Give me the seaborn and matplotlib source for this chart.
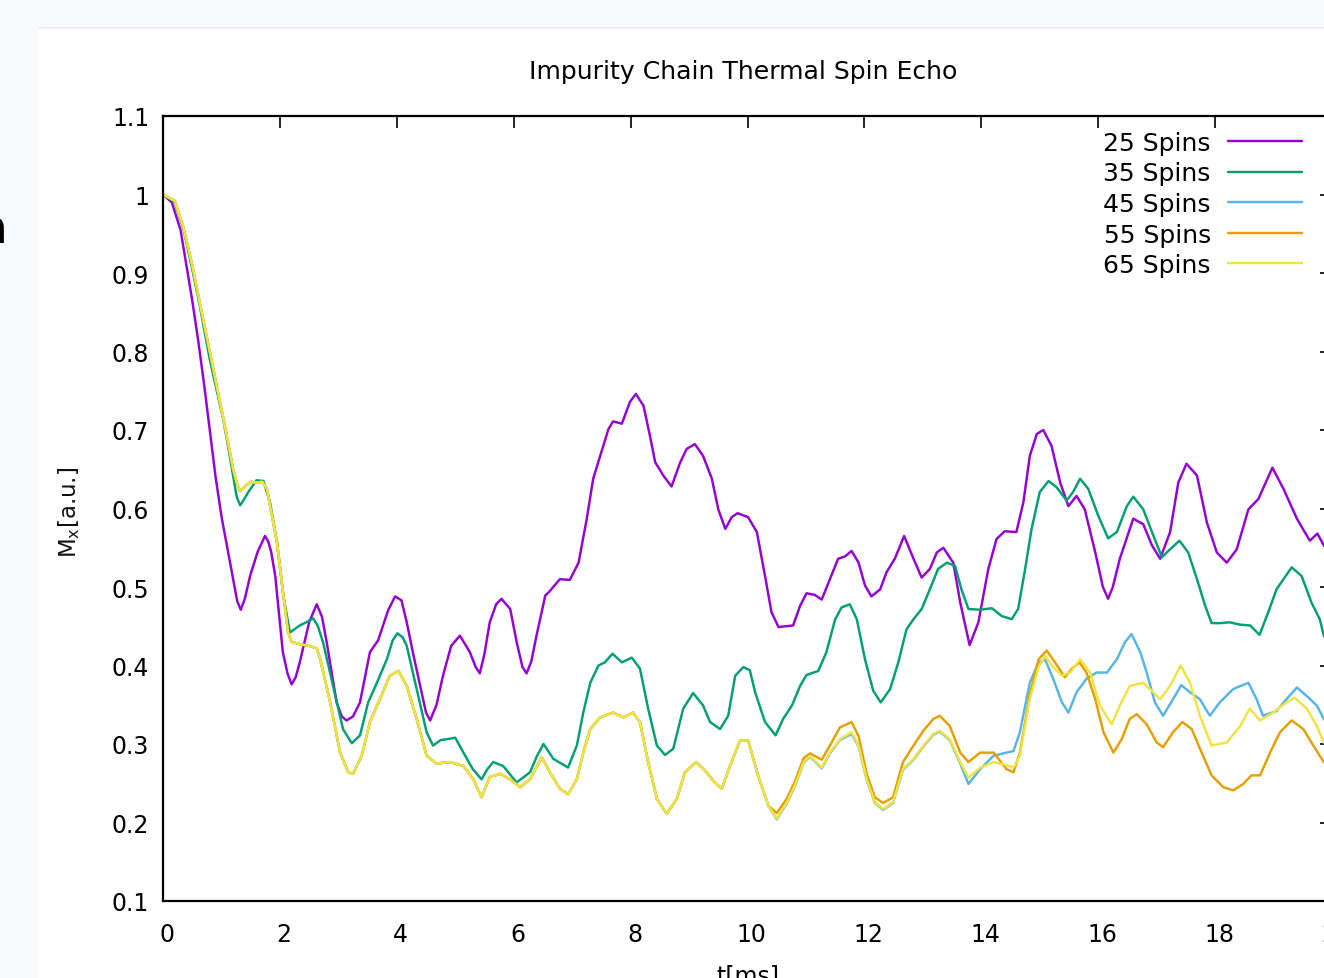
import matplotlib
matplotlib.use("Agg")
import matplotlib.pyplot as plt
import matplotlib.transforms as mtrans
from matplotlib.patches import Rectangle
from matplotlib.lines import Line2D
import pandas as pd
import seaborn as sns

# ---------------- data ----------------
title = "Impurity Chain Thermal Spin Echo"
labels = ["25 Spins", "35 Spins", "45 Spins", "55 Spins", "65 Spins"]
colors = ["#9400d3", "#009e73", "#56b4e9", "#e69f00", "#f0e442"]
xticks = [0, 2, 4, 6, 8, 10, 12, 14, 16, 18, 20]
yticks = [0.1, 0.2, 0.3, 0.4, 0.5, 0.6, 0.7, 0.8, 0.9, 1.0, 1.1]
ytick_labels = ["0.1", "0.2", "0.3", "0.4", "0.5", "0.6", "0.7", "0.8", "0.9", "1", "1.1"]

spins25 = [(0, 1.0), (0.15, 0.99), (0.3, 0.955), (0.4, 0.91), (0.5, 0.865), (0.6, 0.815),
           (0.7, 0.76), (0.8, 0.70), (0.9, 0.64), (1.0, 0.59), (1.1, 0.55), (1.2, 0.51),
           (1.27, 0.482), (1.33, 0.471), (1.4, 0.485), (1.49, 0.514), (1.62, 0.545),
           (1.745, 0.565), (1.8, 0.558), (1.85, 0.545), (1.92, 0.514), (2.05, 0.417),
           (2.13, 0.39), (2.2, 0.376), (2.27, 0.385), (2.34, 0.404), (2.5, 0.455),
           (2.63, 0.478), (2.72, 0.462), (2.8, 0.43), (2.97, 0.353), (3.06, 0.335),
           (3.14, 0.33), (3.25, 0.335), (3.37, 0.353), (3.54, 0.417), (3.68, 0.432),
           (3.85, 0.47), (3.97, 0.488), (4.08, 0.483), (4.17, 0.455), (4.28, 0.415),
           (4.4, 0.374), (4.5, 0.34), (4.57, 0.33), (4.68, 0.35), (4.79, 0.387),
           (4.93, 0.425), (5.08, 0.438), (5.25, 0.417), (5.35, 0.398), (5.42, 0.39),
           (5.5, 0.415), (5.59, 0.455), (5.7, 0.478), (5.79, 0.485), (5.94, 0.472),
           (6.05, 0.43), (6.15, 0.398), (6.22, 0.39), (6.3, 0.405), (6.39, 0.438),
           (6.54, 0.489), (6.62, 0.495), (6.79, 0.51), (6.96, 0.509), (7.11, 0.531),
           (7.25, 0.587), (7.36, 0.638), (7.48, 0.667), (7.62, 0.701), (7.7, 0.711),
           (7.85, 0.708), (7.99, 0.736), (8.09, 0.746), (8.22, 0.731), (8.33, 0.693),
           (8.42, 0.659), (8.56, 0.642), (8.7, 0.628), (8.85, 0.659), (8.96, 0.676),
           (9.1, 0.682), (9.24, 0.667), (9.39, 0.638), (9.5, 0.599), (9.62, 0.574),
           (9.73, 0.589), (9.83, 0.594), (10.01, 0.589), (10.16, 0.57), (10.3, 0.514),
           (10.41, 0.468), (10.53, 0.449), (10.78, 0.451), (10.9, 0.476), (11.01, 0.492),
           (11.15, 0.49), (11.27, 0.484), (11.41, 0.51), (11.55, 0.536), (11.67, 0.539),
           (11.78, 0.546), (11.9, 0.531), (12.01, 0.502), (12.12, 0.488), (12.27, 0.497),
           (12.38, 0.519), (12.52, 0.536), (12.68, 0.565), (12.84, 0.536), (12.98, 0.512),
           (13.12, 0.523), (13.24, 0.544), (13.35, 0.55), (13.52, 0.531), (13.64, 0.48),
           (13.8, 0.426), (13.95, 0.455), (14.12, 0.523), (14.26, 0.561), (14.4, 0.571),
           (14.6, 0.57), (14.72, 0.608), (14.83, 0.667), (14.95, 0.695), (15.06, 0.7),
           (15.2, 0.68), (15.35, 0.633), (15.49, 0.603), (15.63, 0.616), (15.77, 0.599),
           (15.95, 0.544), (16.08, 0.5), (16.17, 0.485), (16.25, 0.5), (16.37, 0.536),
           (16.6, 0.587), (16.77, 0.58), (16.92, 0.553), (17.06, 0.536), (17.23, 0.57),
           (17.37, 0.633), (17.51, 0.657), (17.69, 0.642), (17.86, 0.582), (18.03, 0.544),
           (18.2, 0.531), (18.37, 0.548), (18.57, 0.599), (18.74, 0.612), (18.98, 0.652),
           (19.17, 0.625), (19.4, 0.587), (19.62, 0.559), (19.75, 0.568), (19.86, 0.553),
           (20.0, 0.54)]

spins35 = [(0, 1.0), (0.2, 0.99), (0.35, 0.956), (0.5, 0.905), (0.63, 0.858), (0.8, 0.79),
           (0.92, 0.75), (1.03, 0.714), (1.17, 0.655), (1.26, 0.615), (1.32, 0.604),
           (1.39, 0.612), (1.46, 0.621), (1.6, 0.636), (1.72, 0.635), (1.83, 0.608),
           (1.95, 0.557), (2.06, 0.489), (2.17, 0.442), (2.34, 0.451), (2.45, 0.455),
           (2.57, 0.46), (2.65, 0.45), (2.74, 0.429), (2.91, 0.374), (3.08, 0.319),
           (3.23, 0.301), (3.37, 0.311), (3.51, 0.353), (3.66, 0.378), (3.83, 0.408),
           (3.93, 0.432), (4.01, 0.441), (4.1, 0.436), (4.17, 0.425), (4.34, 0.37),
           (4.51, 0.315), (4.62, 0.298), (4.75, 0.305), (4.85, 0.306), (5.0, 0.308),
           (5.14, 0.289), (5.3, 0.268), (5.45, 0.255), (5.55, 0.268), (5.65, 0.277),
           (5.82, 0.272), (6.05, 0.251), (6.28, 0.264), (6.4, 0.285), (6.51, 0.3),
           (6.68, 0.281), (6.93, 0.27), (7.08, 0.298), (7.19, 0.34), (7.31, 0.378),
           (7.45, 0.4), (7.56, 0.404), (7.69, 0.415), (7.85, 0.404), (8.02, 0.41),
           (8.16, 0.396), (8.3, 0.345), (8.45, 0.298), (8.59, 0.286), (8.73, 0.294),
           (8.9, 0.345), (9.07, 0.365), (9.24, 0.349), (9.36, 0.328), (9.53, 0.319),
           (9.67, 0.336), (9.79, 0.387), (9.93, 0.398), (10.04, 0.394), (10.13, 0.366),
           (10.3, 0.328), (10.48, 0.311), (10.61, 0.332), (10.76, 0.349), (10.9, 0.374),
           (11.01, 0.388), (11.21, 0.393), (11.35, 0.417), (11.5, 0.459), (11.61, 0.474),
           (11.75, 0.478), (11.87, 0.459), (12.01, 0.408), (12.15, 0.368), (12.28, 0.353),
           (12.44, 0.37), (12.58, 0.404), (12.72, 0.446), (12.84, 0.459), (12.98, 0.472),
           (13.12, 0.497), (13.26, 0.523), (13.41, 0.531), (13.55, 0.527), (13.66, 0.497),
           (13.78, 0.472), (13.98, 0.471), (14.18, 0.473), (14.35, 0.463), (14.52, 0.459),
           (14.63, 0.472), (14.75, 0.523), (14.86, 0.574), (15.0, 0.621), (15.15, 0.635),
           (15.29, 0.627), (15.46, 0.61), (15.57, 0.621), (15.69, 0.638), (15.83, 0.625),
           (16.0, 0.591), (16.17, 0.562), (16.32, 0.57), (16.49, 0.603), (16.6, 0.615),
           (16.77, 0.599), (16.92, 0.57), (17.09, 0.538), (17.23, 0.548), (17.39, 0.559),
           (17.54, 0.544), (17.69, 0.51), (17.83, 0.476), (17.94, 0.454), (18.08, 0.454),
           (18.25, 0.455), (18.43, 0.452), (18.6, 0.451), (18.76, 0.439), (18.91, 0.468),
           (19.05, 0.497), (19.31, 0.525), (19.48, 0.514), (19.65, 0.48), (19.79, 0.459),
           (19.86, 0.438), (20.0, 0.42)]

# 45/55/65 spins coincide up to ~10.4 ms
group_early = [(0, 1.0), (0.2, 0.992), (0.35, 0.958), (0.5, 0.91), (0.63, 0.862), (0.86, 0.778),
               (1.09, 0.693), (1.2, 0.65), (1.26, 0.633), (1.32, 0.622), (1.4, 0.628),
               (1.5, 0.634), (1.6, 0.633), (1.7, 0.634), (1.78, 0.625), (1.83, 0.604),
               (1.95, 0.557), (2.06, 0.489), (2.14, 0.442), (2.2, 0.43), (2.35, 0.427),
               (2.5, 0.425), (2.63, 0.422), (2.69, 0.408), (2.86, 0.353), (3.03, 0.289),
               (3.17, 0.264), (3.25, 0.262), (3.4, 0.285), (3.54, 0.328), (3.71, 0.357),
               (3.88, 0.387), (4.03, 0.393), (4.17, 0.374), (4.34, 0.332), (4.51, 0.285),
               (4.68, 0.275), (4.91, 0.277), (5.14, 0.272), (5.31, 0.255), (5.45, 0.232),
               (5.59, 0.258), (5.77, 0.262), (5.94, 0.255), (6.11, 0.245), (6.28, 0.255),
               (6.48, 0.283), (6.62, 0.264), (6.79, 0.243), (6.93, 0.236), (7.08, 0.255),
               (7.19, 0.289), (7.31, 0.319), (7.48, 0.334), (7.7, 0.34), (7.88, 0.334),
               (8.04, 0.34), (8.16, 0.328), (8.3, 0.277), (8.45, 0.23), (8.62, 0.211),
               (8.79, 0.23), (8.93, 0.264), (9.12, 0.277), (9.3, 0.264), (9.44, 0.251),
               (9.56, 0.243), (9.7, 0.272), (9.87, 0.304), (10.01, 0.305), (10.18, 0.26),
               (10.36, 0.221)]

spins45_late = [(10.5, 0.204), (10.67, 0.224), (10.81, 0.246), (10.96, 0.276), (11.07, 0.284),
                (11.27, 0.269), (11.41, 0.288), (11.58, 0.305), (11.78, 0.313), (11.9, 0.297),
                (12.04, 0.254), (12.18, 0.225), (12.32, 0.216), (12.49, 0.225), (12.66, 0.267),
                (12.84, 0.28), (13.01, 0.297), (13.18, 0.312), (13.29, 0.316), (13.46, 0.305),
                (13.64, 0.275), (13.78, 0.249), (13.98, 0.268), (14.21, 0.285), (14.43, 0.289),
                (14.55, 0.291), (14.66, 0.315), (14.83, 0.378), (14.98, 0.404), (15.09, 0.408),
                (15.23, 0.383), (15.38, 0.353), (15.49, 0.34), (15.63, 0.366), (15.8, 0.383),
                (15.97, 0.391), (16.15, 0.391), (16.32, 0.408), (16.46, 0.43), (16.57, 0.44),
                (16.72, 0.417), (16.83, 0.391), (16.97, 0.353), (17.11, 0.336), (17.28, 0.357),
                (17.42, 0.375), (17.57, 0.366), (17.74, 0.357), (17.91, 0.336), (18.08, 0.353),
                (18.31, 0.37), (18.57, 0.378), (18.71, 0.357), (18.82, 0.336), (19.05, 0.342),
                (19.22, 0.357), (19.4, 0.372), (19.57, 0.361), (19.74, 0.349), (19.86, 0.332),
                (20.0, 0.32)]

spins55_late = [(10.5, 0.212), (10.67, 0.23), (10.81, 0.252), (10.96, 0.282), (11.07, 0.288),
                (11.27, 0.28), (11.41, 0.298), (11.58, 0.321), (11.78, 0.328), (11.9, 0.31),
                (12.04, 0.262), (12.18, 0.232), (12.32, 0.225), (12.49, 0.232), (12.66, 0.277),
                (12.84, 0.298), (13.01, 0.317), (13.18, 0.332), (13.29, 0.336), (13.46, 0.323),
                (13.64, 0.289), (13.78, 0.277), (13.98, 0.289), (14.21, 0.289), (14.43, 0.268),
                (14.55, 0.264), (14.66, 0.289), (14.83, 0.363), (14.98, 0.408), (15.12, 0.419),
                (15.26, 0.404), (15.43, 0.385), (15.55, 0.396), (15.68, 0.404), (15.8, 0.391),
                (15.95, 0.357), (16.09, 0.315), (16.26, 0.289), (16.4, 0.306), (16.54, 0.332),
                (16.66, 0.338), (16.83, 0.325), (17.0, 0.302), (17.11, 0.296), (17.28, 0.315),
                (17.44, 0.328), (17.6, 0.319), (17.77, 0.289), (17.94, 0.26), (18.14, 0.245),
                (18.31, 0.241), (18.48, 0.249), (18.62, 0.26), (18.77, 0.26), (18.94, 0.289),
                (19.11, 0.315), (19.31, 0.33), (19.51, 0.319), (19.68, 0.298), (19.86, 0.277),
                (20.0, 0.265)]

spins65_late = [(10.5, 0.205), (10.67, 0.225), (10.81, 0.247), (10.96, 0.277), (11.07, 0.285),
                (11.27, 0.27), (11.41, 0.289), (11.58, 0.306), (11.78, 0.315), (11.9, 0.298),
                (12.04, 0.255), (12.18, 0.226), (12.32, 0.217), (12.49, 0.226), (12.66, 0.268),
                (12.84, 0.281), (13.01, 0.298), (13.18, 0.313), (13.29, 0.317), (13.46, 0.306),
                (13.64, 0.277), (13.78, 0.257), (13.98, 0.27), (14.21, 0.277), (14.43, 0.273),
                (14.55, 0.27), (14.66, 0.285), (14.83, 0.357), (14.98, 0.398), (15.09, 0.412),
                (15.23, 0.398), (15.38, 0.387), (15.52, 0.391), (15.69, 0.408), (15.86, 0.391),
                (16.03, 0.349), (16.23, 0.325), (16.37, 0.349), (16.54, 0.374), (16.77, 0.378),
                (16.94, 0.366), (17.06, 0.357), (17.23, 0.374), (17.41, 0.4), (17.57, 0.378),
                (17.74, 0.336), (17.94, 0.298), (18.2, 0.302), (18.43, 0.323), (18.59, 0.345),
                (18.77, 0.33), (18.99, 0.34), (19.22, 0.353), (19.36, 0.359), (19.57, 0.345),
                (19.74, 0.323), (19.86, 0.302), (20.0, 0.29)]

series = {
    "25 Spins": spins25,
    "35 Spins": spins35,
    "45 Spins": group_early + spins45_late,
    "55 Spins": group_early + spins55_late,
    "65 Spins": group_early + spins65_late,
}

rows = []
for name, pts in series.items():
    for t, m in pts:
        rows.append({"series": name, "t": t, "M": m})
df = pd.DataFrame(rows)

# ---------------- figure ----------------
sns.set_theme(style="white")
plt.rcParams["font.family"] = ["DejaVu Sans"]
plt.rcParams["mathtext.default"] = "regular"
plt.rcParams["text.color"] = "black"

W, H = 1324, 979
fig = plt.figure(figsize=(W / 100, H / 100), dpi=100, facecolor="#f8fafc")
fig.patches.append(Rectangle((38 / W, 0), 1, 1 - 28 / H, transform=fig.transFigure,
                             facecolor="white", edgecolor="none", zorder=-5))
fig.patches.append(Rectangle((38 / W, 1 - 30 / H), 1, 2 / H, transform=fig.transFigure,
                             facecolor="#eef0f3", edgecolor="none", zorder=-5))

ax = fig.add_axes([163 / W, 1 - 902 / H, (1332 - 163) / W, (902 - 117) / H])
ax.set_facecolor("white")

sns.lineplot(data=df, x="t", y="M", hue="series", hue_order=labels,
             palette=dict(zip(labels, colors)), estimator=None, sort=False,
             linewidth=1.75, ax=ax, legend=False)

ax.set_xlim(0, 20)
ax.set_ylim(0.1, 1.1)
ax.set_xticks(xticks)
ax.set_xticklabels([str(v) for v in xticks])
ax.set_yticks(yticks)
ax.set_yticklabels(ytick_labels)
ax.set_xlabel("")
ax.set_ylabel("")
for s in ax.spines.values():
    s.set_visible(True)
    s.set_color("black")
    s.set_linewidth(1.6)
ax.tick_params(direction="in", length=8.5, width=1.2, top=True, right=True,
               colors="black", labelcolor="black", labelsize=17)
ax.tick_params(axis="y", pad=10)
ax.tick_params(axis="x", pad=15)
off = mtrans.ScaledTranslation(4 / 100, 0, fig.dpi_scale_trans)
for lbl in ax.get_xticklabels():
    lbl.set_transform(lbl.get_transform() + off)

handles = [Line2D([], [], color=c, lw=1.75) for c in colors]
leg = ax.legend(handles, labels, loc="upper right", bbox_to_anchor=(1302 / W, 1 - 132 / H),
                bbox_transform=fig.transFigure, frameon=False, markerfirst=False,
                fontsize=18, handlelength=2.95, handletextpad=0.7, labelspacing=0.26,
                borderpad=0, borderaxespad=0)
for txt in leg.get_texts():
    txt.set_color("black")

fig.text(743 / W, 1 - 72 / H, title, ha="center", va="center", fontsize=18.1, color="black")
fig.text(69 / W, 1 - 512 / H, r"M$_{x}$[a.u.]", rotation=90, ha="center", va="center",
         fontsize=16.5, color="#111111")
fig.text(748 / W, 1 - 964 / H, "t[ms]", ha="center", va="top", fontsize=17, color="black")
fig.text(8 / W, 1 - 243 / H, "n", ha="right", va="baseline", fontsize=34, color="black")

fig.savefig("out.png", dpi=100, facecolor=fig.get_facecolor())
